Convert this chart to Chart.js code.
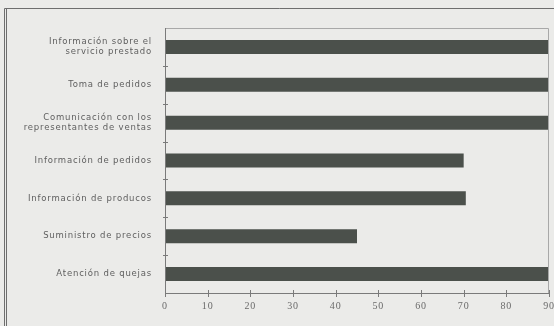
<!DOCTYPE html>
<html>
<head>
<meta charset="utf-8">
<script src="https://cdn.jsdelivr.net/npm/chart.js@4.4.1/dist/chart.umd.min.js"></script>
<style>
  html, body { margin: 0; padding: 0; background: #ebebe9; }
  #wrap { width: 554px; height: 326px; position: relative; }
</style>
</head>
<body>
<div id="wrap"><canvas id="c" width="554" height="326"></canvas></div>
<script>
// Service areas and their scores
const categories = [
  ['Información sobre el', 'servicio prestado'],
  'Toma de pedidos',
  ['Comunicación con los', 'representantes de ventas'],
  'Información de pedidos',
  'Información de producos',
  'Suministro de precios',
  'Atención de quejas'
];
const scores = [90, 90, 90, 70, 70.5, 45, 90];
const xTicks = [0, 10, 20, 30, 40, 50, 60, 70, 80, 90];

// Slightly tracked-out lettering for all labels
const spacingPlugin = {
  id: 'spacing',
  beforeUpdate(chart) { chart.ctx.letterSpacing = '0.8px'; },
  beforeDraw(chart) { chart.ctx.letterSpacing = '0.8px'; }
};

// Outer frame, plot box and cross-shaped tick marks
const framePlugin = {
  id: 'frame',
  beforeDraw(chart) {
    const ctx = chart.ctx;
    ctx.save();
    ctx.fillStyle = '#ebebe9';
    ctx.fillRect(0, 0, chart.width, chart.height);
    ctx.strokeStyle = '#6e6e6e';
    ctx.lineWidth = 1;
    ctx.beginPath();
    ctx.moveTo(4.5, 8.5); ctx.lineTo(chart.width, 8.5);
    ctx.moveTo(4.5, 8.5); ctx.lineTo(4.5, chart.height);
    ctx.moveTo(6.5, 9); ctx.lineTo(6.5, chart.height);
    ctx.stroke();
    ctx.restore();
  },
  afterDatasetsDraw(chart) {
    const ctx = chart.ctx;
    const a = chart.chartArea;
    const xs = chart.scales.x, ys = chart.scales.y;
    ctx.save();
    ctx.lineWidth = 1;
    // top and right edges of the plot box
    ctx.strokeStyle = '#a8a8a8';
    ctx.beginPath();
    ctx.moveTo(Math.round(a.left) + 0.5, Math.round(a.top) + 0.5);
    ctx.lineTo(Math.round(a.right) - 0.5, Math.round(a.top) + 0.5);
    ctx.lineTo(Math.round(a.right) - 0.5, Math.round(a.bottom) + 0.5);
    ctx.stroke();
    // axis lines
    ctx.strokeStyle = '#7a7a7a';
    ctx.beginPath();
    ctx.moveTo(Math.round(a.left) + 0.5, Math.round(a.top));
    ctx.lineTo(Math.round(a.left) + 0.5, Math.round(a.bottom) + 0.5);
    ctx.lineTo(Math.round(a.right), Math.round(a.bottom) + 0.5);
    ctx.stroke();
    // x tick marks crossing the axis
    ctx.beginPath();
    xTicks.forEach(v => {
      const px = Math.round(xs.getPixelForValue(v)) + 0.5;
      ctx.moveTo(px, a.bottom - 3);
      ctx.lineTo(px, a.bottom + 4);
    });
    // y tick marks at category boundaries
    for (let i = 1; i < categories.length; i++) {
      const py = Math.round((ys.getPixelForValue(i - 1) + ys.getPixelForValue(i)) / 2) + 0.5;
      ctx.moveTo(a.left - 2, py);
      ctx.lineTo(a.left + 3, py);
    }
    ctx.stroke();
    ctx.restore();
  }
};

new Chart(document.getElementById('c'), {
  type: 'bar',
  data: {
    labels: categories,
    datasets: [{
      data: scores,
      backgroundColor: '#4b504b',
      borderWidth: 0,
      barPercentage: 0.37,
      categoryPercentage: 1
    }]
  },
  options: {
    indexAxis: 'y',
    responsive: false,
    animation: false,
    events: [],
    layout: { padding: { left: 0, right: 5, top: 28, bottom: 0 } },
    plugins: { legend: { display: false }, tooltip: { enabled: false } },
    scales: {
      x: {
        min: 0, max: 90,
        afterBuildTicks(scale) { scale.ticks = xTicks.map(v => ({ value: v })); },
        afterFit(scale) {
          scale.height = 33;
          scale.paddingLeft = 0;
          scale.paddingRight = 0;
        },
        grid: { display: false, drawTicks: false, tickLength: 0 },
        border: { display: false },
        ticks: {
          padding: 7,
          color: '#6a6a6a',
          font: { family: '"Liberation Serif", "DejaVu Serif", serif', size: 10 },
          maxRotation: 0
        }
      },
      y: {
        afterFit(scale) {
          scale.width = 165;
          scale.paddingTop = 0;
          scale.paddingBottom = 0;
        },
        grid: { display: false, drawTicks: false, tickLength: 0 },
        border: { display: false },
        ticks: {
          padding: 13,
          color: '#5e5e5e',
          font: { family: '"DejaVu Sans", sans-serif', size: 8.5, lineHeight: 1.2 }
        }
      }
    }
  },
  plugins: [spacingPlugin, framePlugin]
});
</script>
</body>
</html>
